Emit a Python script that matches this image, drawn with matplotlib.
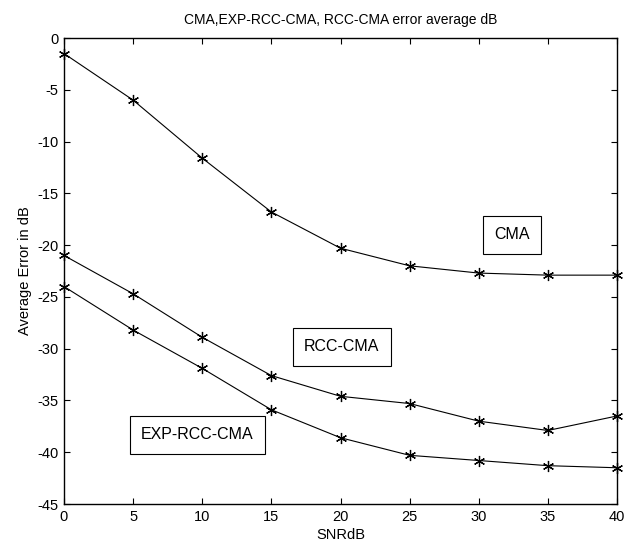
import matplotlib
matplotlib.use("Agg")
import matplotlib.pyplot as plt

plt.rcParams["font.family"] = ["Liberation Sans", "DejaVu Sans"]
plt.rcParams["axes.unicode_minus"] = False

snr_db = [0, 5, 10, 15, 20, 25, 30, 35, 40]
cma = [-1.5, -6.0, -11.6, -16.8, -20.3, -22.0, -22.7, -22.9, -22.9]
rcc_cma = [-21.0, -24.7, -28.9, -32.6, -34.6, -35.3, -37.0, -37.9, -36.5]
exp_rcc_cma = [-24.0, -28.2, -31.9, -35.9, -38.6, -40.3, -40.8, -41.3, -41.5]

xticks = [0, 5, 10, 15, 20, 25, 30, 35, 40]
yticks = [0, -5, -10, -15, -20, -25, -30, -35, -40, -45]

fig = plt.figure(figsize=(6.25, 5.51), dpi=100)
ax = fig.add_axes([64 / 625, 1 - 504 / 551, 553 / 625, 466 / 551])

star = (6, 2, 0)
for ys in (cma, rcc_cma, exp_rcc_cma):
    ax.plot(snr_db, ys, color="black", lw=0.8, marker=star, ms=8, mew=0.9,
            clip_on=False, zorder=3)

box = dict(boxstyle="square,pad=0.72", fc="white", ec="black", lw=0.8)
ax.text(32.4, -19.0, "CMA", fontsize=11.5, ha="center", va="center", bbox=box)
ax.text(20.1, -29.8, "RCC-CMA", fontsize=11.5, ha="center", va="center", bbox=box)
ax.text(9.66, -38.3, "EXP-RCC-CMA", fontsize=11.5, ha="center", va="center", bbox=box)

ax.set_xlim(0, 40)
ax.set_ylim(-45, 0)
ax.set_xticks(xticks)
ax.set_yticks(yticks)
ax.tick_params(direction="in", length=4, width=0.8, labelsize=10.5,
               top=True, right=True, pad=4)
for s in ax.spines.values():
    s.set_linewidth(1.0)

ax.set_xlabel("SNRdB", fontsize=10.5, labelpad=3)
ax.set_ylabel("Average Error in dB", fontsize=10.5, labelpad=4)
ax.set_title("CMA,EXP-RCC-CMA, RCC-CMA error average dB", fontsize=10, pad=10)

fig.savefig("out.png", dpi=100)
